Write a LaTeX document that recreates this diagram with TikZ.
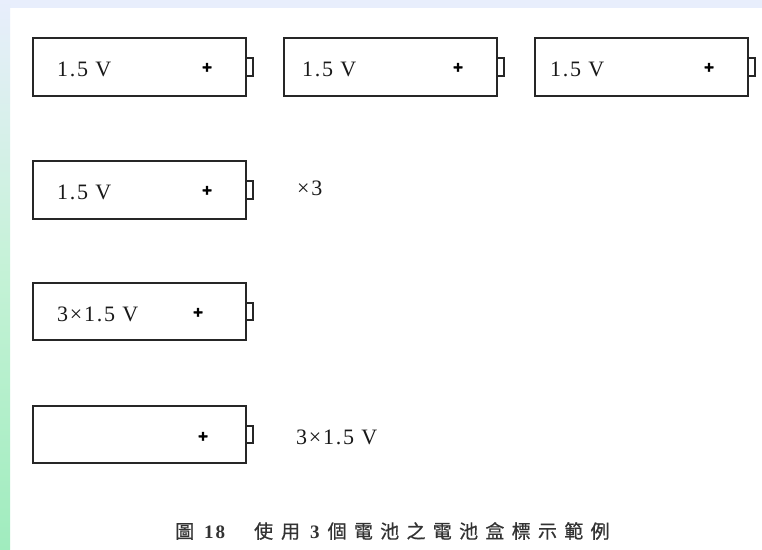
\documentclass[tikz,border=0pt]{standalone}
\usepackage{fontspec}
\setmainfont{Liberation Serif}
\newfontfamily\cjk{Noto Sans CJK TC}[FakeBold=0.7]
\newfontfamily\plusfont{Liberation Sans}[FakeBold=1.5]
\begin{document}
\begin{tikzpicture}[x=1pt,y=-1pt,
  cell/.style={draw=black!85, line width=1.7pt, fill=white, minimum width=213pt, minimum height=57.5pt, inner sep=0pt, outer sep=0pt},
  termbox/.style={draw=black!85, line width=1.7pt, minimum width=7pt, minimum height=17.5pt, inner sep=0pt, outer sep=0pt, anchor=west},
  volt/.style={font=\fontsize{22}{24}\selectfont\addfontfeature{LetterSpace=8}, text=black!90, anchor=west, inner sep=0pt},
  plussign/.style={font=\fontsize{17}{18}\selectfont\plusfont\bfseries, text=black, inner sep=0pt},
  captext/.style={text=black!80, inner sep=0pt, anchor=west}
]
\useasboundingbox (0,0) rectangle (762,549);
% background
\fill[white] (0,0) rectangle (762,549);
\fill[color={rgb,255:red,232;green,238;blue,252}] (0,0) rectangle (762,8);
\shade[top color={rgb,255:red,232;green,238;blue,252}, bottom color={rgb,255:red,160;green,236;blue,190}, middle color={rgb,255:red,196;green,242;blue,214}] (0,0) rectangle (10,549);

% row 1
\node[cell] (b1) at (139.8,67) {};
\node[termbox] (t1) at (b1.east) {};
\node[volt] (v1) at (57,69) {1.5 V};
\node[plussign] (p1) at (207,68) {+};

\node[cell] (b2) at (390.5,67) {};
\node[termbox] (t2) at (b2.east) {};
\node[volt] (v2) at (302,69) {1.5 V};
\node[plussign] (p2) at (458,68) {+};

\node[cell] (b3) at (641.2,67) {};
\node[termbox] (t3) at (b3.east) {};
\node[volt] (v3) at (550,69) {1.5 V};
\node[plussign] (p3) at (709,68) {+};

% row 2
\node[cell] (b4) at (139.8,190) {};
\node[termbox] (t4) at (b4.east) {};
\node[volt] (v4) at (57,192) {1.5 V};
\node[plussign] (p4) at (207,191) {+};
\node[volt] (x4) at (297,188) {×3};

% row 3
\node[cell] (b5) at (139.8,311.5) {};
\node[termbox] (t5) at (b5.east) {};
\node[volt] (v5) at (57,314) {3×1.5 V};
\node[plussign] (p5) at (198,313) {+};

% row 4
\node[cell] (b6) at (139.8,434.5) {};
\node[termbox] (t6) at (b6.east) {};
\node[plussign] (p6) at (203,437) {+};
\node[volt] (v6) at (296,437) {3×1.5 V};

% caption
\node[captext] (c) at (175,531) {\fontsize{19}{20}\selectfont\cjk 圖\kern10pt{\rmfamily\bfseries\addfontfeature{LetterSpace=10}18}\kern29pt 使\kern8pt 用\kern10pt{\rmfamily\bfseries 3}\kern8pt 個\kern7.3pt 電\kern7.3pt 池\kern7.3pt 之\kern7.3pt 電\kern7.3pt 池\kern7.3pt 盒\kern7.3pt 標\kern7.3pt 示\kern7.3pt 範\kern7.3pt 例};
\end{tikzpicture}
\end{document}
